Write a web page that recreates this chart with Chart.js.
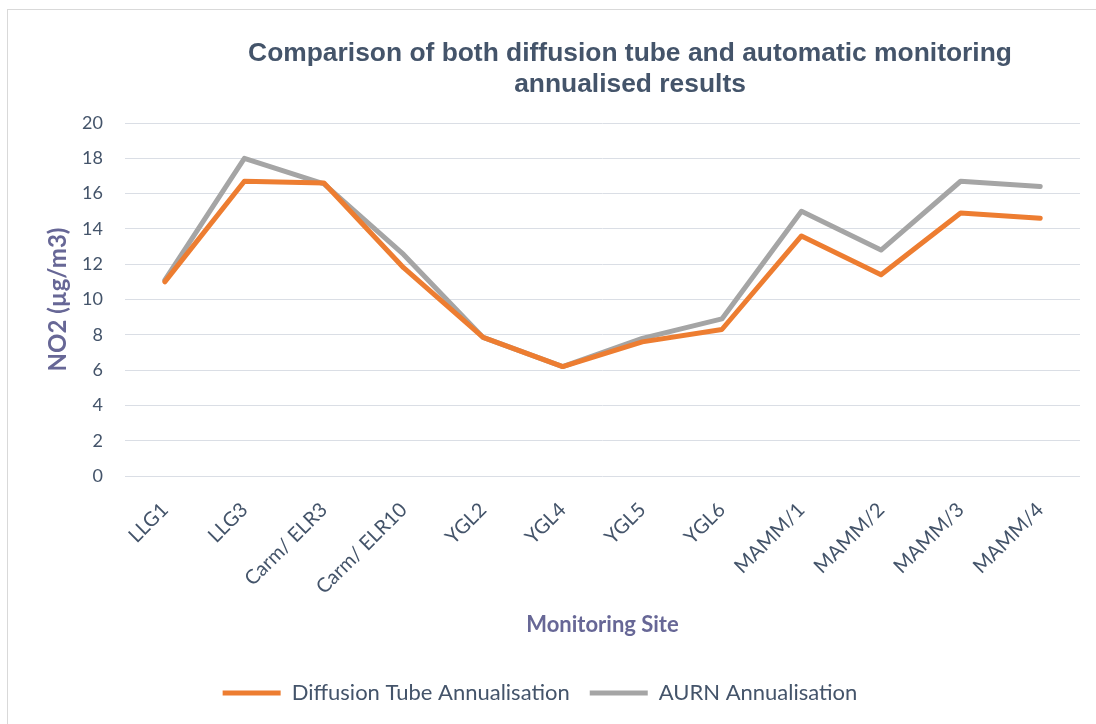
<!DOCTYPE html>
<html>
<head>
<meta charset="utf-8">
<script src="https://cdn.jsdelivr.net/npm/chart.js@4"></script>
<style>
  html, body { margin: 0; padding: 0; background: #fff; }
  #wrap { position: relative; width: 1096px; height: 724px; overflow: hidden; }
  #frame { position: absolute; left: 7px; top: 9px; width: 1200px; height: 800px; border: 1px solid #d9d9d9; }
  #chart { position: absolute; left: 0; top: 0; }
</style>
</head>
<body>
<div id="wrap">
  <div id="frame"></div>
  <canvas id="chart" width="1096" height="724"></canvas>
</div>
<script>
const SITES = ['LLG1', 'LLG3', 'Carm/ ELR3', 'Carm/ ELR10', 'YGL2', 'YGL4', 'YGL5', 'YGL6', 'MAMM/1', 'MAMM/2', 'MAMM/3', 'MAMM/4'];
const DIFFUSION = [11.0, 16.7, 16.6, 11.8, 7.85, 6.2, 7.6, 8.3, 13.6, 11.4, 14.9, 14.6];
const AURN      = [11.1, 18.0, 16.55, 12.55, 7.85, 6.2, 7.8, 8.9, 15.0, 12.8, 16.7, 16.4];
const Y_TICKS = [0, 20, 2];

const TITLE_LINES = ['Comparison of both diffusion tube and automatic monitoring', 'annualised results'];
const TEXT = '#44546A';
const AXIS_TITLE = '#676796';

// title drawn by hand, it sits right of the canvas centre like in the original
const titlePlugin = {
  id: 'big-title',
  afterDraw(chart) {
    const { ctx } = chart;
    ctx.save();
    ctx.fillStyle = TEXT;
    ctx.font = 'bold 26.4px "Liberation Sans", Arial, sans-serif';
    ctx.textAlign = 'center';
    ctx.textBaseline = 'middle';
    TITLE_LINES.forEach((t, i) => ctx.fillText(t, 630, 54 + i * 31));
    ctx.restore();
  },
};

new Chart(document.getElementById('chart').getContext('2d'), {
  type: 'line',
  data: {
    labels: SITES,
    datasets: [
      {
        label: 'Diffusion Tube Annualisation',
        data: DIFFUSION,
        borderColor: '#ED7D31',
        backgroundColor: '#ED7D31',
        borderWidth: 5,
        pointRadius: 0,
        borderCapStyle: 'round',
        borderJoinStyle: 'round',
        tension: 0,
      },
      {
        label: 'AURN Annualisation',
        data: AURN,
        borderColor: '#A5A5A5',
        backgroundColor: '#A5A5A5',
        borderWidth: 5,
        pointRadius: 0,
        borderCapStyle: 'round',
        borderJoinStyle: 'round',
        tension: 0,
      },
    ],
  },
  options: {
    responsive: false,
    animation: false,
    layout: { padding: { top: 123, right: 16, bottom: 10, left: 0 } },
    plugins: {
      title: { display: false },
      tooltip: { enabled: false },
      legend: {
        position: 'bottom',
        labels: {
          usePointStyle: true,
          pointStyle: 'line',
          pointStyleWidth: 58,
          color: TEXT,
          font: { family: 'Lato, sans-serif', size: 22 },
          padding: 20,
        },
      },
    },
    scales: {
      x: {
        offset: true,
        grid: { display: false },
        border: { display: false },
        ticks: {
          color: TEXT,
          font: { family: 'Lato, sans-serif', size: 20 },
          minRotation: 45,
          maxRotation: 45,
          padding: 14,
          autoSkip: false,
        },
        title: {
          display: true,
          text: 'Monitoring Site',
          color: AXIS_TITLE,
          font: { family: 'Lato, sans-serif', size: 22, weight: 'bold' },
          padding: { top: 0, bottom: 24 },
        },
        afterFit(scale) { scale.height = 186; },
      },
      y: {
        min: Y_TICKS[0],
        max: Y_TICKS[1],
        grid: { color: '#DADEE5', lineWidth: 1, drawTicks: false },
        border: { display: false },
        ticks: {
          stepSize: Y_TICKS[2],
          color: TEXT,
          font: { family: 'Lato, sans-serif', size: 18 },
          padding: 22,
        },
        title: {
          display: true,
          text: 'NO2 (µg/m3)',
          color: AXIS_TITLE,
          font: { family: 'Lato, sans-serif', size: 24, weight: 'bold' },
          padding: { top: 44, bottom: 0 },
        },
        afterFit(scale) { scale.width = 125; },
      },
    },
  },
  plugins: [titlePlugin],
});
</script>
</body>
</html>
